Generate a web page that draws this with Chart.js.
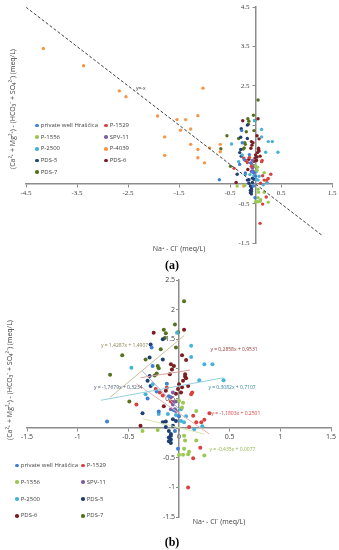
<!DOCTYPE html>
<html>
<head>
<meta charset="utf-8">
<script src="https://cdn.jsdelivr.net/npm/chart.js@4"></script>
<style>
  body { margin: 0; background: #fff; }
  #page { position: relative; width: 339px; height: 550px; overflow: hidden;
          font-family: "Open Sans", "Liberation Sans", sans-serif; color: #404040; }
  .abs { position: absolute; white-space: nowrap; }
  .ytitle { transform: translate(-50%, -50%) rotate(-90deg); font-size: 7px; }
  .xtitle { transform: translate(-50%, -50%); font-size: 7px; }
  .panel { transform: translate(-50%, -50%); font: bold 12px "Liberation Serif", serif; color: #000; }
  .leg { transform: translateY(-50%); line-height: 1; }
  .leg i { display: inline-block; width: 3.5px; height: 3.5px; border-radius: 50%; margin-right: 2px; vertical-align: middle; }
</style>
</head>
<body>
<div id="page">
  <canvas id="chartA" class="abs" style="left:0;top:0" width="339" height="258"></canvas>
  <canvas id="chartB" class="abs" style="left:0;top:258px" width="339" height="292"></canvas>

  <div class="abs ytitle" style="left:12px;top:109px">(Ca²⁺ + Mg²⁺) - (HCO₃⁻ + SO₄²⁻) (meq/L)</div>
  <div class="abs xtitle" style="left:179px;top:248px">Na⁺ - Cl⁻ (meq/L)</div>
  <div class="abs panel" style="left:172px;top:265px">(a)</div>

  <div class="abs ytitle" style="left:9px;top:380px">(Ca²⁺ + Mg²⁺) - (HCO₃⁻ + SO₄²⁻) (meq/L)</div>
  <div class="abs xtitle" style="left:219px;top:521px">Na⁺ - Cl⁻ (meq/L)</div>
  <div class="abs panel" style="left:172px;top:542px">(b)</div>
</div>

<script>
// tick values
const xTicksA = [-4.5, -3.5, -2.5, -1.5, -0.5, 0.5, 1.5];
const yTicksA = [-1.5, -0.5, 0.5, 1.5, 2.5, 3.5, 4.5];
const yLabelsA = ['-1.5', '-0.5', '', '', '2.5', '3.5', '4.5'];
const xTicksB = [-1.5, -1, -0.5, 0, 0.5, 1, 1.5];
const yTicksB = [-1.5, -1, -0.5, 0, 0.5, 1, 1.5, 2, 2.5];
const yLabelsB = ['-1.5', '-1', '-0.5', '', '0.5', '1', '1.5', '2', '2.5'];

// [Na-Cl, (Ca+Mg)-(HCO3+SO4)] per well, meq/L
const privateWell = [[-0.71, 0.11], [-0.01, -0.35], [-0.31, 0.5], [-0.26, 1.05], [-0.1, 0.54],
  [-0.27, 1.36], [-0.2, 0.28], [-0.05, 0.3], [-0.12, 0.75], [-0.22, 0.62], [0.0, 0.2], [-0.04, -0.05]];
const p1529 = [[0.3, 0.25], [0.14, 0.21], [0.17, 0.1], [0.22, 0.1], [0.25, 0.14], [0.12, 0.57],
  [-0.42, 0.4], [0.21, -0.33], [0.14, -0.51], [0.09, -1.0], [-0.12, 0.68], [-0.23, 0.66],
  [-0.19, 0.6], [-0.16, 0.55], [0.13, 0.6], [0.1, 0.02], [-0.08, 0.45]];
const p1556 = [[0.17, 0.29], [0.04, 0.43], [0.03, 0.35], [-0.36, -0.05], [-0.21, -0.03], [0.05, -0.13],
  [0.06, -0.21], [0.05, -0.35], [0.1, -0.4], [0.04, -0.45], [0.0, -0.45], [0.25, -0.46],
  [0.17, -0.21], [0.09, -0.44], [0.0, 0.46]];
const spv11 = [[-0.08, 0.52], [-0.06, 0.4], [-0.04, 0.32], [-0.06, 0.6], [-0.06, 0.43],
  [-0.03, 0.45], [-0.08, 0.32], [-0.03, 0.29]];
const p2500 = [[0.12, 1.39], [0.12, 1.2], [0.25, 1.08], [0.33, 1.08], [0.44, 0.81], [0.2, 0.81],
  [-0.02, 1.61], [-0.47, 1.02], [-0.26, 0.74], [-0.33, 0.57], [-0.2, 0.24], [-0.11, 0.24],
  [-0.03, 0.22], [0.02, 0.32], [0.15, -0.02], [0.05, 0.1], [0.02, 0.12], [0.07, 0.2], [0.23, 0.03]];
const p4039 = [[-4.16, 3.45], [-3.37, 3.01], [-2.67, 2.37], [-2.54, 2.22], [-1.92, 1.73], [-1.78, 1.2],
  [-1.03, 2.44], [-1.54, 1.64], [-1.37, 1.64], [-1.13, 1.74], [-1.47, 1.37], [-1.27, 1.4],
  [-1.27, 1.01], [-1.13, 0.88], [-0.9, 0.92], [-0.69, 1.01], [-0.69, 0.82], [-1.13, 0.67],
  [-1.0, 0.54], [-1.78, 0.73], [-0.23, -0.05], [0.22, 0.05]];
const pds5 = [[-0.28, 1.41], [-0.29, 1.19], [-0.16, 1.16], [-0.29, 0.88], [-0.31, 0.8], [-0.28, 0.71],
  [-0.16, 1.5], [-0.36, 0.25], [-0.13, 0.11], [-0.06, 0.15], [-0.06, 0.04], [-0.1, -0.05],
  [-0.08, -0.1], [-0.1, -0.16], [-0.08, -0.19], [-0.03, 0.12], [-0.16, 0.1], [-0.13, 0.02],
  [-0.08, -0.25], [-0.1, -0.22], [-0.08, -0.13]];
const pds6 = [[0.05, 1.66], [-0.25, 1.61], [0.03, 1.23], [0.07, 1.15], [-0.08, 1.08], [-0.07, 0.99],
  [-0.09, 0.91], [0.06, 0.91], [0.07, 0.84], [0.04, 0.8], [0.0, 0.74], [0.03, 0.69], [-0.01, 0.66],
  [0.09, 0.71], [0.02, 0.6], [-0.03, 0.58], [-0.05, 1.05], [-0.13, 0.63], [-0.15, 0.37],
  [-0.38, 0.04], [0.06, 0.87]];
const pds7 = [[0.05, 2.14], [-0.04, 1.75], [-0.01, 1.62], [-0.03, 1.36], [-0.15, 1.66], [-0.13, 1.6],
  [-0.14, 1.52], [-0.18, 1.33], [-0.21, 1.05], [-0.2, 1.01], [-0.33, 1.16], [-0.22, 0.92],
  [-0.24, 0.89], [-0.56, 1.23], [-0.68, 0.9], [-0.49, 0.45]];

// y = -x reference line (a) and linear trends (b), end points
const lineYX = [[-4.5, 4.5], [1.3, -1.3]];
const trendPds7 = [[-0.68, 0.52], [0.05, 1.56]];
const trendPds6 = [[-0.38, 0.85], [0.11, 0.98]];
const trendPds5 = [[-0.36, 0.96], [0.0, 0.32]];
const trendP2500 = [[-0.77, 0.47], [0.44, 0.85]];
const trendP1529 = [[-0.42, 0.75], [0.3, -0.1]];
const trendP1556 = [[-0.36, 0.16], [0.25, -0.1]];

const S = {
  pw:   { name: 'private well Hrašćica', color: '#3f7fd4', data: privateWell },
  p1529:{ name: 'P-1529', color: '#d9413f', data: p1529 },
  p1556:{ name: 'P-1556', color: '#9bc850', data: p1556 },
  spv:  { name: 'SPV-11', color: '#7f5fa8', data: spv11 },
  p2500:{ name: 'P-2500', color: '#45b3d6', data: p2500 },
  p4039:{ name: 'P-4039', color: '#f79646', data: p4039 },
  pds5: { name: 'PDS-5', color: '#1f3f74', data: pds5 },
  pds6: { name: 'PDS-6', color: '#7a1e22', data: pds6 },
  pds7: { name: 'PDS-7', color: '#56711f', data: pds7 }
};
const orderA = ['pw', 'p1529', 'p1556', 'spv', 'p2500', 'p4039', 'pds5', 'pds6', 'pds7'];
const orderB = ['pw', 'p1529', 'p1556', 'spv', 'p2500', 'pds5', 'pds6', 'pds7'];

const toXY = arr => arr.map(([x, y]) => ({ x, y }));

function pointSets(order, r) {
  return order.map(k => ({
    label: S[k].name, data: toXY(S[k].data),
    backgroundColor: S[k].color, borderColor: S[k].color,
    borderWidth: 0, pointRadius: r
  }));
}
function lineSet(pts, color, width, dash) {
  return { type: 'line', data: toXY(pts), borderColor: color, borderWidth: width,
           borderDash: dash || [], pointRadius: 0, fill: false, order: -1 };
}

// text labels placed in data coordinates, and y axis moved onto x = 0
const eqLabels = {
  id: 'eqLabels',
  afterLayout(chart) {
    const y = chart.scales.y;
    const px = chart.scales.x.getPixelForValue(0);
    y.left = px - 40; y.right = px;   // room for the tick labels (they are clipped to the box)
  },
  afterDatasetsDraw(chart, args, opts) {
    const { ctx, scales: { x, y } } = chart;
    ctx.save();
    ctx.font = opts.font;
    ctx.textBaseline = 'middle';
    (opts.items || []).forEach(it => {
      ctx.fillStyle = it.color;
      ctx.textAlign = it.align || 'left';
      ctx.fillText(it.text, x.getPixelForValue(it.at[0]), y.getPixelForValue(it.at[1]));
    });
    ctx.restore();
  }
};

function axis(min, max, values, labels, font, isX, pad) {
  return {
    type: 'linear', min, max, position: isX ? { y: 0 } : 'left',
    afterBuildTicks: s => { s.ticks = values.map(v => ({ value: v })); },
    afterFit: s => { if (isX) s.height = 0; else s.width = 0; },
    grid: { drawOnChartArea: false, drawTicks: true, tickLength: 3, color: '#8c8c8c' },
    border: { display: true, color: '#8c8c8c', width: 1.5 },
    ticks: {
      font, color: '#404040', padding: pad, maxRotation: 0, autoSkip: false,
      callback: (v) => labels ? labels[values.indexOf(v)] : String(v)
    }
  };
}

function makeChart(id, datasets, o) {
  return new Chart(document.getElementById(id), {
    type: 'scatter',
    data: { datasets },
    options: {
      responsive: false, animation: false,
      layout: { padding: o.padding },
      plugins: { legend: { display: false }, tooltip: { enabled: false },
                 eqLabels: { font: '5px "Open Sans", sans-serif', items: o.labels } },
      scales: {
        x: axis(o.x[0], o.x[1], o.xt, null, o.font, true, 2),
        y: axis(o.y[0], o.y[1], o.yt, o.yl, o.font, false, o.ypad)
      }
    },
    plugins: [eqLabels]
  });
}

makeChart('chartA',
  [lineSet(lineYX, '#404040', 1, [3, 2])].concat(pointSets(orderA, 1.7)),
  { padding: { left: 26, right: 7, top: 6, bottom: 15 },
    x: [-4.5, 1.5], y: [-1.5, 4.5], xt: xTicksA, yt: yTicksA, yl: yLabelsA, ypad: 3,
    font: { family: '"Liberation Serif", serif', size: 7 },
    labels: [{ text: 'y=-x', at: [-2.25, 2.43], color: '#404040', align: 'center' }] });

makeChart('chartB',
  [lineSet(trendPds7, '#c9bf9c', 1), lineSet(trendPds6, '#d9a0a0', 1), lineSet(trendPds5, '#a9adc9', 1),
   lineSet(trendP2500, '#93cfe0', 1), lineSet(trendP1529, '#ebb3b2', 1), lineSet(trendP1556, '#d9e4b0', 1)]
    .concat(pointSets(orderB, 2)),
  { padding: { left: 27, right: 8, top: 22, bottom: 33 },
    x: [-1.5, 1.5], y: [-1.5, 2.5], xt: xTicksB, yt: yTicksB, yl: yLabelsB, ypad: 1,
    font: { family: '"Open Sans", sans-serif', size: 7 },
    labels: [
      { text: 'y = 1,4287x + 1,4907', at: [-0.77, 1.40], color: '#8f8656' },
      { text: 'y = 0,2858x + 0,9531', at: [0.31, 1.32], color: '#953735' },
      { text: 'y = -1,7679x + 0,3234', at: [-0.84, 0.68], color: '#4a5870' },
      { text: 'y = 0,3082x + 0,7107', at: [0.29, 0.68], color: '#31859c' },
      { text: 'y = -1,1803x + 0,2501', at: [0.32, 0.25], color: '#d9413f' },
      { text: 'y = -0,435x + 0,0077', at: [0.30, -0.37], color: '#8fb34c' }
    ] });

// legends inside the plot areas, two columns
function legend(order, x0, x1, y0, dy, size) {
  const page = document.getElementById('page');
  order.forEach((k, i) => {
    const d = document.createElement('div');
    d.className = 'abs leg';
    d.style.left = ((i % 2 ? x1 : x0) - 1.75) + 'px';
    d.style.top = (y0 + Math.floor(i / 2) * dy) + 'px';
    d.style.fontSize = size + 'px';
    d.innerHTML = '<i style="background:' + S[k].color + '"></i>' + S[k].name;
    page.appendChild(d);
  });
}
legend(orderA, 37, 106, 125, 11.7, 6);
legend(orderB, 17, 83, 465, 16.8, 6);
</script>
</body>
</html>
